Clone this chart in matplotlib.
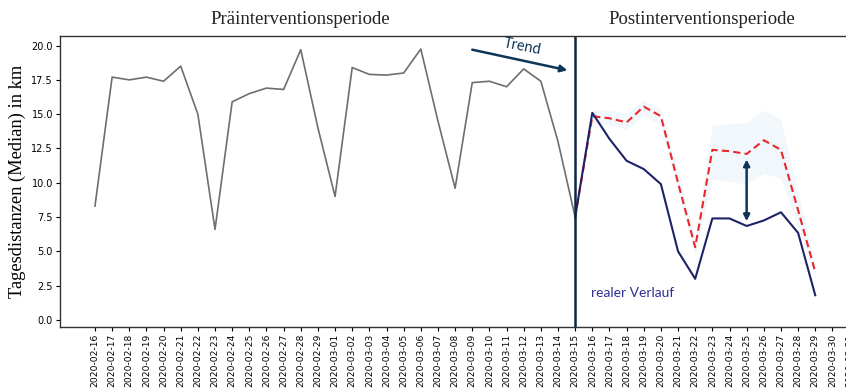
import numpy as np
import pandas as pd
import matplotlib
matplotlib.use('Agg')
import matplotlib.pyplot as plt
import matplotlib.dates as mdates

# pre-intervention period, 2020-02-16 .. 2020-03-15
pre_dates = pd.date_range('2020-02-16', '2020-03-15')
pre_values = [8.3, 17.7, 17.5, 17.7, 17.4, 18.5, 15.0, 6.6, 15.9, 16.5,
              16.9, 16.8, 19.7, 14.0, 9.0, 18.4, 17.9, 17.85, 18.0, 19.75,
              14.5, 9.6, 17.3, 17.4, 17.0, 18.3, 17.4, 13.0, 7.5]

# post-intervention period, 2020-03-15 .. 2020-03-29
post_dates = pd.date_range('2020-03-15', '2020-03-29')
real_values = [7.5, 15.1, 13.2, 11.6, 11.0, 9.9, 5.0, 3.0, 7.4, 7.4,
               6.85, 7.25, 7.85, 6.35, 1.8]
pred_values = [7.5, 14.85, 14.7, 14.4, 15.55, 14.85, 10.0, 5.3, 12.4, 12.3,
               12.1, 13.1, 12.4, 8.0, 3.5]
pred_lower = [7.5, 14.4, 14.2, 13.9, 14.9, 14.2, 9.3, 4.8, 10.3, 10.1,
              9.9, 10.7, 10.3, 6.8, 3.0]
pred_upper = [7.5, 15.3, 15.3, 15.1, 16.0, 15.4, 10.8, 5.9, 14.2, 14.3,
              14.4, 15.3, 14.6, 9.3, 4.1]

tick_dates = pd.date_range('2020-02-16', '2020-03-31')
intervention = pd.Timestamp('2020-03-15')

fig = plt.figure(figsize=(8.46, 3.91), dpi=100)
ax = fig.add_axes([0.0709, 0.1645, 0.9637, 0.7435])

ax.fill_between(post_dates, pred_lower, pred_upper, color='#e6f2f9', alpha=0.55, lw=0)
ax.plot(pre_dates, pre_values, color='#6e6e6e', lw=1.2)
ax.plot(post_dates, pred_values, color='#e8282b', lw=1.5, ls=(0, (3.5, 2)))
ax.plot(post_dates, real_values, color='#1e2266', lw=1.5)
ax.axvline(intervention, color='#0f2747', lw=1.8)

start = tick_dates[0]
ax.set_xlim(start - pd.Timedelta(days=2.04), start + pd.Timedelta(days=45.5))
ax.set_ylim(-0.49, 20.7)
ax.set_yticks(np.arange(0, 20.1, 2.5))
ax.yaxis.set_major_formatter(matplotlib.ticker.FormatStrFormatter('%.1f'))
ax.set_xticks(tick_dates)
ax.xaxis.set_major_formatter(mdates.DateFormatter('%Y-%m-%d'))
ax.tick_params(axis='x', labelrotation=90, labelsize=6.6, length=3, pad=2)
ax.tick_params(axis='y', labelsize=7, length=3, pad=2)
for s in ax.spines.values():
    s.set_color('#333333')
    s.set_linewidth(1.0)

ax.set_ylabel('Tagesdistanzen (Median) in km', family='Liberation Serif',
              fontsize=13.3, labelpad=4)

fig.text(0.355, 0.949, 'Präinterventionsperiode', family='Liberation Serif',
         fontsize=13.5, ha='center', va='center', color='#222222')
fig.text(0.83, 0.949, 'Postinterventionsperiode', family='Liberation Serif',
         fontsize=13.5, ha='center', va='center', color='#222222')

arrow_col = '#0d3558'
ax.annotate('', xy=(pd.Timestamp('2020-03-14') + pd.Timedelta(days=0.55), 18.2),
            xytext=(pd.Timestamp('2020-03-09'), 19.7),
            arrowprops=dict(arrowstyle='-|>', color=arrow_col, lw=1.8,
                            mutation_scale=10, shrinkA=0, shrinkB=0))
ax.text(pd.Timestamp('2020-03-11') + pd.Timedelta(days=0.9), 19.95, 'Trend',
        family='Lato', fontsize=10.5, color=arrow_col, rotation=-11,
        ha='center', va='center')

ax.annotate('', xy=(pd.Timestamp('2020-03-25'), 7.2),
            xytext=(pd.Timestamp('2020-03-25'), 11.7),
            arrowprops=dict(arrowstyle='<|-|>', color=arrow_col, lw=1.8,
                            mutation_scale=9, shrinkA=0, shrinkB=0))

ax.text(pd.Timestamp('2020-03-16') - pd.Timedelta(days=0.05), 2.0, 'realer Verlauf',
        family='Lato', fontsize=10, color='#2e3192', ha='left', va='center')

fig.savefig('out.png', dpi=100)
